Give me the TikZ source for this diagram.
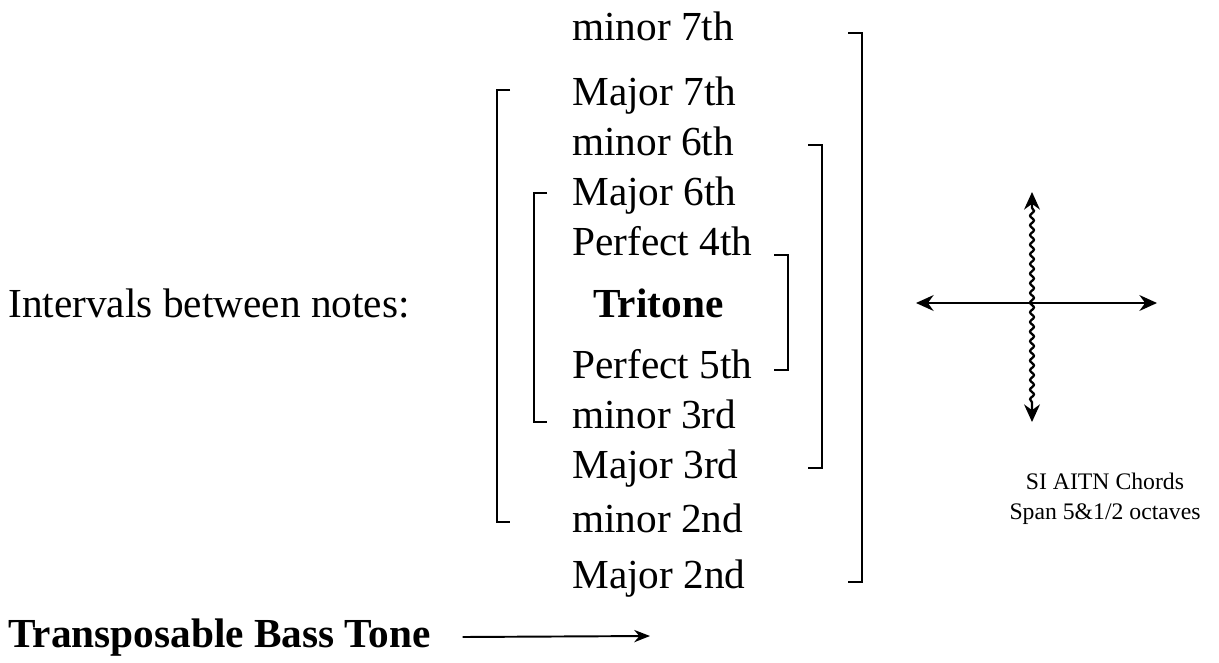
\documentclass[tikz,border=0pt]{standalone}
\usepackage{fontspec}
\setmainfont{Liberation Serif}
\usetikzlibrary{arrows.meta,decorations.pathmorphing}

\begin{document}
\begin{tikzpicture}[x=0.02cm,y=-0.02cm,
  interval/.style={anchor=west,inner sep=0pt,font=\fontsize{23.5}{27}\selectfont,text height=16pt,text depth=4.5pt},
  brace/.style={line width=1.1pt},
  axis/.style={line width=1.3pt,{Stealth[length=10pt,width=9pt]}-{Stealth[length=10pt,width=9pt]}}]
  \useasboundingbox (0,0) rectangle (1219,662);
  % label on the left
  \node[interval] (lbl) at (8,307) {Intervals between notes:};
  % the stack of intervals
  \node[interval] (min7) at (572,30) {minor 7th};
  \node[interval] (maj7) at (572,95) {Major 7th};
  \node[interval] (min6) at (572,145) {minor 6th};
  \node[interval] (maj6) at (572,195) {Major 6th};
  \node[interval] (p4) at (572,245) {Perfect 4th};
  \node[interval] (tri) at (593,307) {\bfseries Tritone};
  \node[interval] (p5) at (572,368) {Perfect 5th};
  \node[interval] (min3) at (572,418) {minor 3rd};
  \node[interval] (maj3) at (572,468) {Major 3rd};
  \node[interval] (min2) at (572,522) {minor 2nd};
  \node[interval] (maj2) at (572,578) {Major 2nd};
  % brackets
  \draw[brace] (510,90) -- (497,90) -- (497,522) -- (510,522);
  \draw[brace] (547,193) -- (534,193) -- (534,422) -- (547,422);
  \draw[brace] (774,255) -- (788,255) -- (788,370) -- (774,370);
  \draw[brace] (808,145) -- (822,145) -- (822,468) -- (808,468);
  \draw[brace] (848,33) -- (862,33) -- (862,582) -- (848,582);
  % the cross
  \coordinate (west) at (916,303);
  \coordinate (east) at (1157,303);
  \coordinate (north) at (1032,192);
  \coordinate (south) at (1032,422);
  \draw[axis] (west) -- (east);
  \draw[axis,decorate,decoration={snake,amplitude=1.1pt,segment length=5.5pt,pre length=9pt,post length=9pt}] (north) -- (south);
  \node[align=center,inner sep=0pt,font=\fontsize{13.5}{17}\selectfont] (chords) at (1105,499) {SI AITN Chords\\Span 5\&1/2 octaves};
  % bass tone
  \node[interval] (bass) at (8,637) {\bfseries Transposable Bass Tone};
  \coordinate (tip) at (650,636);
  \draw[line width=1.1pt,-{Stealth[length=9pt,width=7pt]}] ([xshift=18pt]bass.east) -- (tip);
\end{tikzpicture}
\end{document}
